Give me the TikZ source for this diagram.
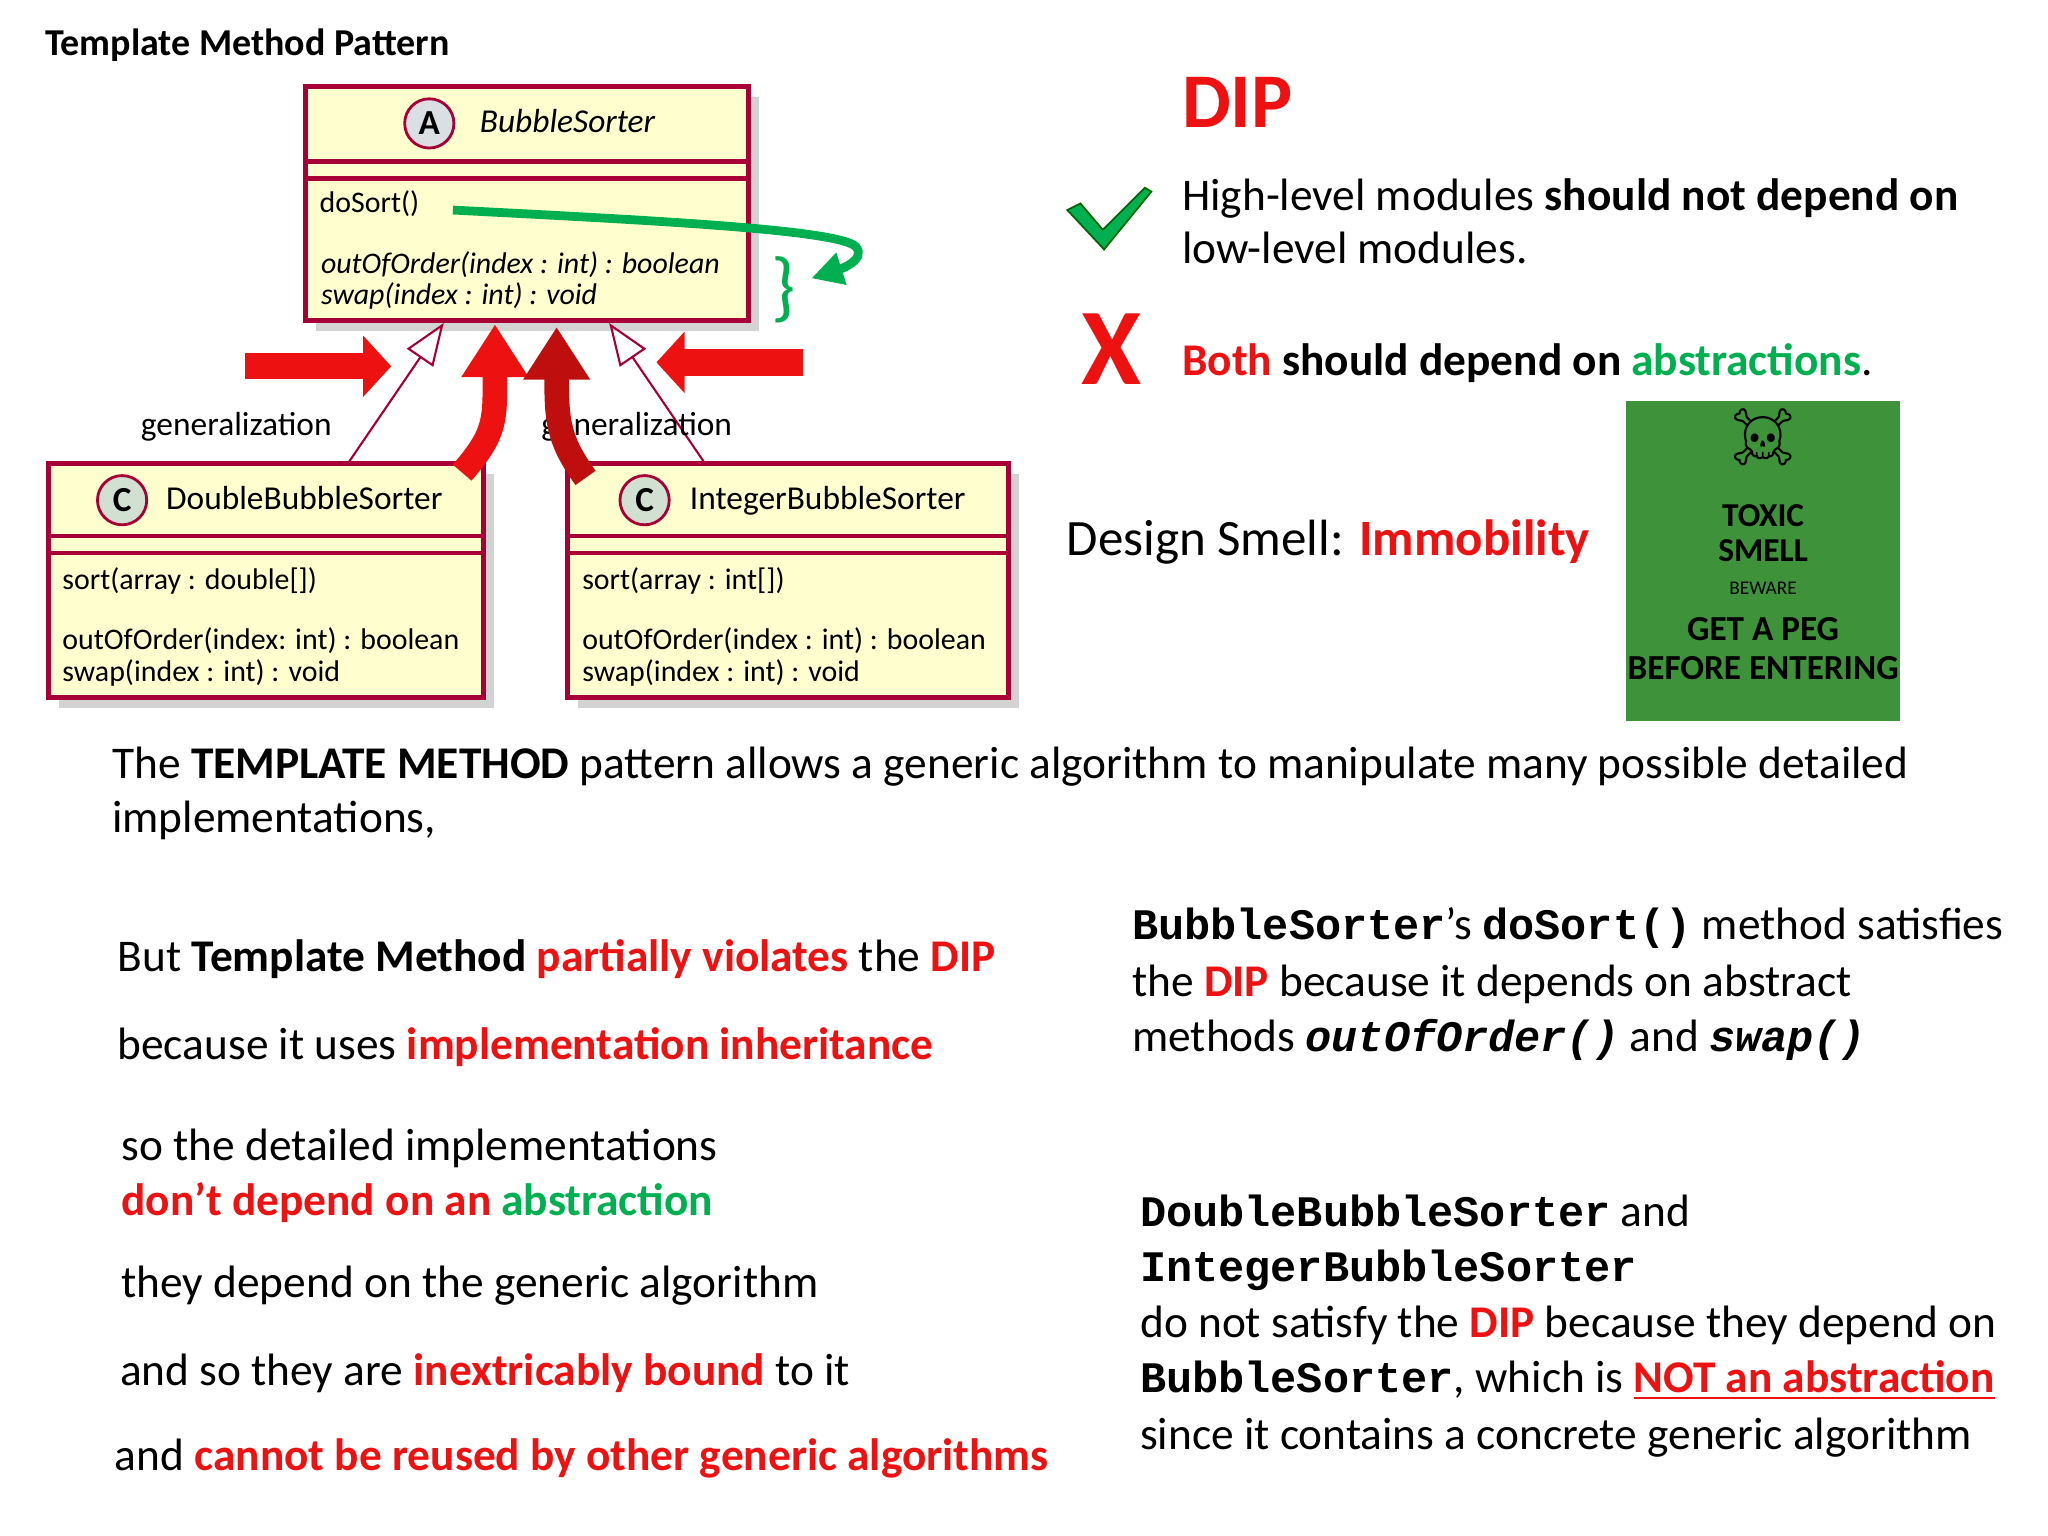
\documentclass[tikz,border=0pt]{standalone}
\usepackage{fontspec}
\setmainfont{Carlito}
\setmonofont[Scale=0.96]{Liberation Mono}
\newfontfamily\emojifont{Noto Emoji}
\usetikzlibrary{arrows.meta,shadows}
\definecolor{myred}{HTML}{EE1111}
\definecolor{mygreen}{HTML}{00B050}
\definecolor{umlfill}{HTML}{FEFECE}
\definecolor{umlline}{HTML}{A80036}
\definecolor{poster}{HTML}{3E9239}
\newcommand{\rd}[1]{\textcolor{myred}{\textbf{#1}}}
\newcommand{\gr}[1]{\textcolor{mygreen}{\textbf{#1}}}
\newcommand{\mb}[1]{\texttt{\textbf{#1}}}
\tikzset{
  umlbox/.style={draw=umlline,fill=umlfill,line width=1.4pt,drop shadow={shadow xshift=3pt,shadow yshift=-3pt,opacity=0.35}},
  umlsep/.style={draw=umlline,line width=1.2pt},
  umltxt/.style={anchor=base west,font=\fontsize{8.5}{9}\selectfont,inner sep=0pt},
  circ/.style={circle,draw=umlline,line width=0.8pt,minimum size=14pt,inner sep=0pt,font=\bfseries\fontsize{10}{10}\selectfont},
  gen/.style={draw=umlline,line width=0.6pt},
  txt/.style={anchor=base west,inner sep=0pt,font=\fontsize{12.9}{14}\selectfont},
  bigred/.style={myred,line width=7.5pt},
}
\begin{document}
\begin{tikzpicture}[x=0.013128cm,y=-0.013128cm]
\useasboundingbox (0,0) rectangle (1560,1170);
\node[anchor=base west,inner sep=0pt,font=\bfseries\fontsize{10.8}{12}\selectfont] (title) at (34,42) {Template Method Pattern};
% top box
\path[umlbox] (233,66) rectangle (570,244);
\draw[umlsep] (233,123) -- (570,123);
\draw[umlsep] (233,136) -- (570,136);
\node[circ,fill=cyan!15!gray!30] (ca) at (327,94) {A};
\node[umltxt,font=\itshape\fontsize{9.5}{10}\selectfont] (bsname) at (365,101) {BubbleSorter};
\node[umltxt] (dosort) at (243,162) {doSort()};
\node[umltxt,font=\itshape\fontsize{8.5}{9}\selectfont] (ooo) at (244,208) {outOfOrder(index : int) : boolean};
\node[umltxt,font=\itshape\fontsize{8.5}{9}\selectfont] (swp) at (244,232) {swap(index : int) : void};
% left box
\path[umlbox] (37,353) rectangle (368,531);
\draw[umlsep] (37,408) -- (368,408);
\draw[umlsep] (37,421) -- (368,421);
\node[circ,fill=green!20!gray!30] (c1) at (93,381) {C};
\node[umltxt,font=\fontsize{9.5}{10}\selectfont] (dbs) at (126,388) {DoubleBubbleSorter};
\node[umltxt] (l1) at (47,449) {sort(array : double[])};
\node[umltxt] (l2) at (47,495) {outOfOrder(index: int) : boolean};
\node[umltxt] (l3) at (47,519) {swap(index : int) : void};
% right box
\path[umlbox] (432,353) rectangle (768,531);
\draw[umlsep] (432,408) -- (768,408);
\draw[umlsep] (432,421) -- (768,421);
\node[circ,fill=green!20!gray!30] (c2) at (491,381) {C};
\node[umltxt,font=\fontsize{9.5}{10}\selectfont] (ibs) at (525,388) {IntegerBubbleSorter};
\node[umltxt] (r1) at (443,449) {sort(array : int[])};
\node[umltxt] (r2) at (443,495) {outOfOrder(index : int) : boolean};
\node[umltxt] (r3) at (443,519) {swap(index : int) : void};
% generalizations
\coordinate (g1s) at (265,353); \coordinate (g1e) at (338,246);
\coordinate (g2s) at (537,353); \coordinate (g2e) at (464,246);
\draw[gen,-{Triangle[open,length=12pt,width=9pt]}] (g1s) -- (g1e);
\draw[gen,-{Triangle[open,length=12pt,width=9pt]}] (g2s) -- (g2e);
\node[anchor=base,inner sep=0pt,font=\fontsize{9.5}{10}\selectfont] (gl1) at (180,332) {generalization};
\node[anchor=base,inner sep=0pt,font=\fontsize{9.5}{10}\selectfont] (gl2) at (485,332) {generalization};
% red arrows
\coordinate (ha1) at (187,279); \coordinate (hb1) at (298,279);
\coordinate (ha2) at (612,276); \coordinate (hb2) at (500,276);
\draw[bigred,-{Triangle[length=8pt,width=17pt]}] (ha1) -- (hb1);
\draw[bigred,-{Triangle[length=8pt,width=17pt]}] (ha2) -- (hb2);
\coordinate (ca1) at (352,360); \coordinate (cb1) at (377,247);
\coordinate (ca2) at (446,364); \coordinate (cb2) at (424,249);
\draw[bigred,line width=7pt,-{Triangle[length=15pt,width=18pt]}] (ca1) .. controls (378,330) and (377,320) .. (cb1);
\draw[myred!80!black,line width=7pt,-{Triangle[length=15pt,width=18pt]}] (ca2) .. controls (425,335) and (424,320) .. (cb2);
% green arrow & brace
\coordinate (gs) at (345,160); \coordinate (ge) at (618,212);
\draw[mygreen,line width=2.5pt,-{Triangle[length=9pt,width=9pt]}] (gs) .. controls (500,168) and (640,175) .. (652,188) .. controls (660,198) and (640,205) .. (ge);
\node[mygreen,anchor=center,inner sep=0pt,font=\fontsize{22}{22}\selectfont] (brace) at (597,221) {\}};
% DIP
\node[anchor=base west,inner sep=0pt,font=\bfseries\fontsize{22}{24}\selectfont,text=myred] (dip) at (900,97) {DIP};
\fill[mygreen,draw=green!40!black,line width=0.5pt] (813,160) -- (823,155) -- (840,175) -- (872,143) -- (877,146) -- (841,190) -- cycle;
\node[txt] (hl1) at (900,160) {High-level modules \textbf{should not depend on}};
\node[txt] (hl2) at (900,201) {low-level modules.};
\node[anchor=center,inner sep=0pt,text=myred,font=\bfseries\fontsize{31}{31}\selectfont] (xx) at (847,266) {X};
\node[txt] (both) at (900,286) {\rd{Both} \textbf{should depend on} \gr{abstractions}.};
\node[anchor=base west,inner sep=0pt,font=\fontsize{14.5}{16}\selectfont] (smell) at (812,423) {Design Smell: \rd{Immobility}};
% poster
\node[fill=poster,minimum width=209*0.013128cm,minimum height=244*0.013128cm,anchor=north west,inner sep=0pt] (poster) at (1238,305) {};
\node[inner sep=0pt,font=\emojifont\fontsize{16}{16}\selectfont] (skull) at (1343,333) {☠};
\node[align=center,inner sep=0pt,font=\bfseries\fontsize{9.5}{10}\selectfont,anchor=center] (toxic) at (1343,406) {TOXIC\\SMELL};
\node[inner sep=0pt,font=\fontsize{5.5}{6}\selectfont,anchor=center] (beware) at (1343,448) {BEWARE};
\node[align=center,inner sep=0pt,font=\bfseries\fontsize{10}{11}\selectfont,anchor=center] (peg) at (1343,494) {GET A PEG\\BEFORE ENTERING};
% body text
\node[txt] (t1) at (85,593) {The \textbf{TEMPLATE METHOD} pattern allows a generic algorithm to manipulate many possible detailed};
\node[txt] (t2) at (85,634) {implementations,};
\node[txt] (b1) at (89,740) {But \textbf{Template Method} \rd{partially violates} the \rd{DIP}};
\node[txt] (b2) at (89,807) {because it uses \rd{implementation inheritance}};
\node[txt] (b3) at (92,884) {so the detailed implementations};
\node[txt] (b4) at (92,926) {\rd{don't depend on an} \gr{abstraction}};
\node[txt] (b5) at (92,988) {they depend on the generic algorithm};
\node[txt] (b6) at (91,1055) {and so they are \rd{inextricably bound} to it};
\node[txt] (b7) at (87,1120) {and \rd{cannot be reused by other generic algorithms}};
\node[txt] (c1t) at (862,716) {\mb{BubbleSorter}’s \mb{doSort()} method satisfies};
\node[txt] (c2t) at (862,759) {the \rd{DIP} because it depends on abstract};
\node[txt] (c3t) at (862,801) {methods \mb{\itshape outOfOrder()} and \mb{\itshape swap()}};
\node[txt] (d1) at (868,934) {\mb{DoubleBubbleSorter} and};
\node[txt] (d2) at (868,976) {\mb{IntegerBubbleSorter}};
\node[txt] (d3) at (868,1019) {do not satisfy the \rd{DIP} because they depend on};
\node[txt] (d4) at (868,1061) {\mb{BubbleSorter}, which is \textcolor{myred}{\textbf{\underline{NOT an abstraction}}}};
\node[txt] (d5) at (868,1104) {since it contains a concrete generic algorithm};
\end{tikzpicture}
\end{document}
